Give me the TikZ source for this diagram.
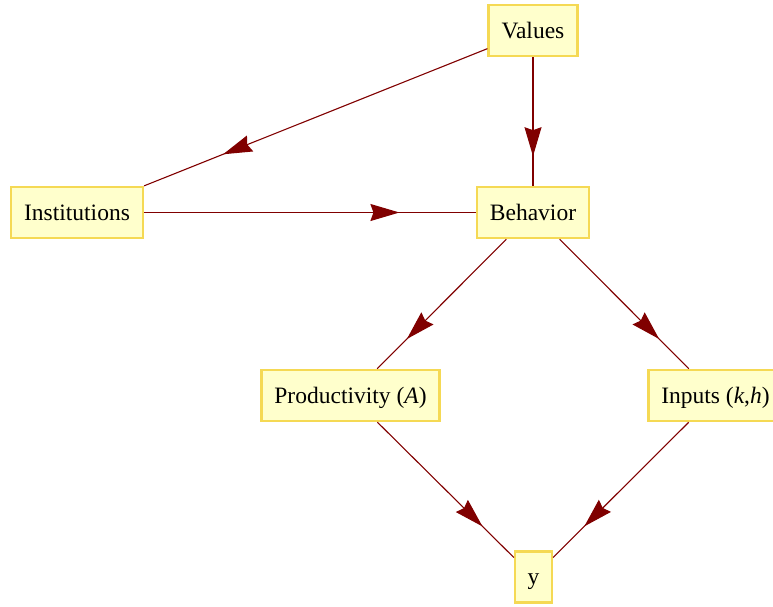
\documentclass[tikz,border=0pt]{standalone}
\usepackage{fontspec}
\setmainfont{Liberation Serif}
\usetikzlibrary{arrows.meta,decorations.markings}
\definecolor{boxfill}{rgb}{1,1,0.8}
\definecolor{boxline}{rgb}{0.96,0.85,0.33}
\definecolor{edgecol}{rgb}{0.5,0,0}
\begin{document}
\begin{tikzpicture}[x=1pt,y=-1pt,
  vbox/.style={draw=boxline,fill=boxfill,line width=2.5pt,inner xsep=13pt,
    minimum height=51pt,text height=20pt,text depth=5pt,
    font=\fontsize{23.5}{28}\selectfont},
  edge/.style={draw=edgecol,line width=1.1pt,
    postaction={decorate},
    decoration={markings,mark=at position 0.77 with {\arrow[edgecol]{Stealth[length=29pt,width=17pt,inset=3pt]}}}}]
\useasboundingbox (0,0) rectangle (773,606);
\node[vbox] (val) at (533,30.5) {Values};
\node[vbox] (inst) at (77,212.5) {Institutions};
\node[vbox] (beh) at (533,212.5) {Behavior};
\node[vbox] (prod) at (350.5,395.5) {Productivity (\textit{A})};
\node[vbox] (inp) at (715.5,395.5) {Inputs (\textit{k},\textit{h})};
\node[vbox,inner xsep=12.5pt] (y) at (533.5,577) {y};
\path[edge] (val) -- (inst);
\path[edge] (val) -- (beh);
\path[edge] (inst) -- (beh);
\path[edge] (beh) -- (prod);
\path[edge] (beh) -- (inp);
\path[edge] (prod) -- (y);
\path[edge] (inp) -- (y);
\end{tikzpicture}
\end{document}
